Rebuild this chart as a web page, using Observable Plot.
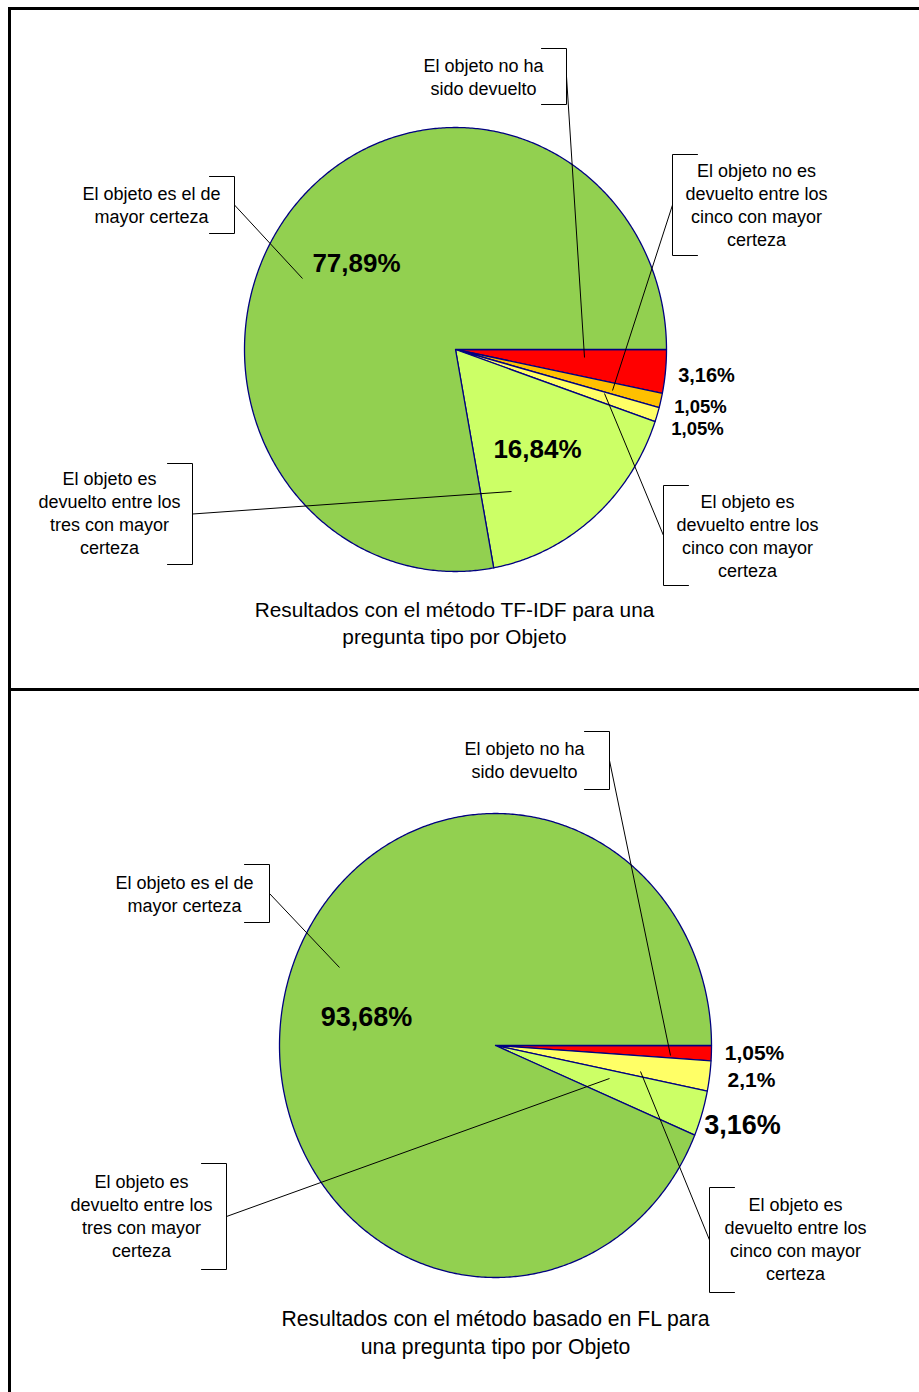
<!DOCTYPE html>
<html>
<head>
<meta charset="utf-8">
<script src="https://cdn.jsdelivr.net/npm/d3@7"></script>
<script src="https://cdn.jsdelivr.net/npm/@observablehq/plot@0.6"></script>
<style>
  body { margin: 0; background: #fff; }
  #page { position: relative; width: 919px; height: 1392px; overflow: hidden; background: #fff; }
  .panel { position: absolute; left: 0; }
  .rule { position: absolute; background: #000; }
</style>
</head>
<body>
<div id="page"></div>
<script>
// Result categories, in clockwise order starting at 3 o'clock
const categories = ["noDevuelto", "noEntreCinco", "entreCinco", "entreTres", "mayorCerteza"];
const calloutTexts = [
  "El objeto no ha\nsido devuelto",
  "El objeto no es\ndevuelto entre los\ncinco con mayor\ncerteza",
  "El objeto es\ndevuelto entre los\ncinco con mayor\ncerteza",
  "El objeto es\ndevuelto entre los\ntres con mayor\ncerteza",
  "El objeto es el de\nmayor certeza"
];
// Percentages per method
const valuesTFIDF = [3.16, 1.05, 1.05, 16.84, 77.89];
const valuesFL = [1.05, 0, 2.1, 3.16, 93.68];
const titles = [
  "Resultados con el método TF-IDF para una\npregunta tipo por Objeto",
  "Resultados con el método basado en FL para\nuna pregunta tipo por Objeto"
];

// Styling
const sliceColors = ["#FF0000", "#FFC000", "#FFFF66", "#CCFF66", "#92D050"];
const edgeColor = "#000080";
const FONT = "'Liberation Sans', Arial, sans-serif";

// Panel layout (page pixel coordinates)
const panels = [
  {
    values: valuesTFIDF, title: titles[0], y0: 0, y1: 689, titleSize: 20.8,
    cx: 455, cy: 349, rx: 211, ry: 222, titlePos: [454, 621.5],
    pct: [[706, 375, 20], [700, 407, 18.5], [697, 429, 18.5], [537, 449, 26], [356, 263, 26]],
    callouts: [
      {tx: 483, ty: 75.5, bx: 566, top: 48, bot: 104, tick: -25, ax: 584, ay: 357},
      {tx: 756, ty: 203.5, bx: 672, top: 154, bot: 255, tick: 25, ax: 612, ay: 390},
      {tx: 747, ty: 534.5, bx: 663, top: 485, bot: 585, tick: 25, ax: 604, ay: 393},
      {tx: 109, ty: 512, bx: 192, top: 463, bot: 564, tick: -25, ax: 511, ay: 491},
      {tx: 151, ty: 203.5, bx: 234, top: 176, bot: 233, tick: -25, ax: 302, ay: 278}
    ]
  },
  {
    values: valuesFL, title: titles[1], y0: 689, y1: 1392, titleSize: 21.2,
    cx: 495, cy: 1045, rx: 216, ry: 232, titlePos: [495, 1330.5],
    pct: [[754, 1053, 21], null, [751, 1080, 21], [742, 1125, 27], [366, 1017, 27]],
    callouts: [
      {tx: 524, ty: 758.5, bx: 609, top: 731, bot: 789, tick: -25, ax: 670, ay: 1055},
      null,
      {tx: 795, ty: 1238, bx: 709, top: 1187, bot: 1292, tick: 25, ax: 640, ay: 1071},
      {tx: 141, ty: 1215, bx: 226, top: 1163, bot: 1269, tick: -25, ax: 609, ay: 1078},
      {tx: 184, ty: 892.5, bx: 269, top: 864, bot: 922, tick: -25, ax: 339, ay: 967}
    ]
  }
];

const fmt = v => String(v).replace(".", ",") + "%";

function slicePolygons(p) {
  const total = d3.sum(p.values);
  let acc = 0;
  const out = [];
  p.values.forEach((v, i) => {
    const a0 = acc / total * 2 * Math.PI;
    acc += v;
    const a1 = acc / total * 2 * Math.PI;
    if (v <= 0) return;
    const n = Math.max(2, Math.ceil((a1 - a0) / (Math.PI / 360)));
    const pts = [{x: p.cx, y: p.cy}];
    for (let k = 0; k <= n; k++) {
      const a = a0 + (a1 - a0) * k / n;
      pts.push({x: p.cx + p.rx * Math.cos(a), y: p.cy + p.ry * Math.sin(a)});
    }
    pts.push({x: p.cx, y: p.cy});
    out.push({i, pts});
  });
  return out;
}

function renderPanel(p) {
  const H = p.y1 - p.y0;
  const marks = [];
  for (const s of slicePolygons(p)) {
    marks.push(Plot.line(s.pts, {x: "x", y: "y", fill: sliceColors[s.i], stroke: edgeColor, strokeWidth: 1.3, strokeLinejoin: "round"}));
  }
  // callout brackets and leaders
  const callouts = p.callouts.map((c, i) => c && p.values[i] > 0 ? {...c, i, text: calloutTexts[i]} : null).filter(Boolean);
  const bracketPts = callouts.flatMap(c => [
    {id: c.i, x: c.bx + c.tick, y: c.top},
    {id: c.i, x: c.bx, y: c.top},
    {id: c.i, x: c.bx, y: c.bot},
    {id: c.i, x: c.bx + c.tick, y: c.bot}
  ]);
  marks.push(Plot.line(bracketPts, {x: "x", y: "y", z: "id", stroke: "#000", strokeWidth: 1}));
  marks.push(Plot.link(callouts, {x1: "bx", y1: c => (c.top + c.bot) / 2, x2: "ax", y2: "ay", stroke: "#000", strokeWidth: 1}));
  marks.push(Plot.text(callouts, {x: "tx", y: "ty", text: "text", fontSize: 18, lineHeight: 1.28, fill: "#000", textAnchor: "middle", lineAnchor: "middle", fontFamily: FONT}));
  // percentage labels
  const pctLabels = p.values.map((v, i) => p.pct[i] && v > 0 ? {x: p.pct[i][0], y: p.pct[i][1], size: p.pct[i][2], label: fmt(v)} : null).filter(Boolean);
  for (const l of pctLabels) {
    marks.push(Plot.text([l], {x: "x", y: "y", text: "label", fontSize: l.size, fontWeight: "bold", fill: "#000", textAnchor: "middle", lineAnchor: "middle", fontFamily: FONT}));
  }
  // caption
  marks.push(Plot.text([{x: p.titlePos[0], y: p.titlePos[1], t: p.title}], {x: "x", y: "y", text: "t", fontSize: p.titleSize, lineHeight: 1.3, fill: "#000", textAnchor: "middle", lineAnchor: "middle", fontFamily: FONT}));

  const svg = Plot.plot({
    width: 919, height: H, margin: 0,
    style: {background: "#fff", fontFamily: FONT, overflow: "visible"},
    x: {domain: [0, 919], range: [0, 919], axis: null},
    y: {domain: [p.y0, p.y1], range: [0, H], axis: null},
    marks
  });
  svg.classList.add("panel");
  svg.style.top = p.y0 + "px";
  return svg;
}

const page = document.getElementById("page");
panels.forEach(p => page.appendChild(renderPanel(p)));

// frame rules
[[8, 7, 3, 1385], [8, 7, 911, 3], [8, 688, 911, 3]].forEach(([l, t, w, h]) => {
  const d = document.createElement("div");
  d.className = "rule";
  Object.assign(d.style, {left: l + "px", top: t + "px", width: w + "px", height: h + "px"});
  page.appendChild(d);
});
</script>
</body>
</html>
